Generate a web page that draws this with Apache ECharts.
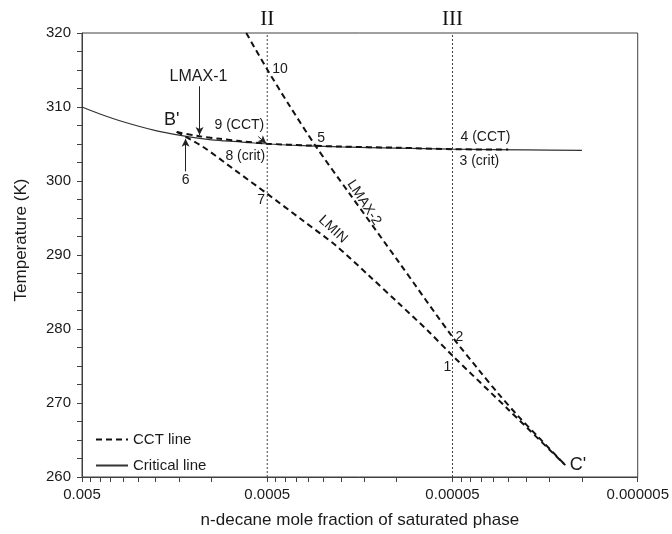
<!DOCTYPE html>
<html>
<head>
<meta charset="utf-8">
<script src="https://cdn.jsdelivr.net/npm/echarts@6/dist/echarts.min.js"></script>
<style>
  html, body { margin: 0; padding: 0; background: #fff; }
  #chart { width: 672px; height: 534px; }
</style>
</head>
<body>
<div id="chart"></div>
<script>
// ---- Data ----
const xTickValues = [0.005, 0.0005, 0.00005, 0.000005];
const xTickLabels = ['0.005', '0.0005', '0.00005', '0.000005'];

// Critical line (solid)
const critX = [0.005, 0.004, 0.003, 0.002, 0.0015, 0.001, 0.0007, 0.0005, 0.0003, 0.0002, 0.0001, 0.00005, 0.00002, 0.00001];
const critT = [310.0, 309.05, 308.0, 306.8, 306.2, 305.55, 305.3, 305.0, 304.75, 304.6, 304.45, 304.3, 304.2, 304.15];

// CCT line LMAX-1 (dashed, runs along the critical line)
const lmax1X = [0.00154, 0.0012, 0.0009, 0.0007, 0.0005, 0.0003, 0.0002, 0.0001, 0.00005, 0.000025];
const lmax1T = [306.63, 306.1, 305.7, 305.4, 305.05, 304.8, 304.65, 304.5, 304.3, 304.25];

// CCT line LMIN (dashed)
const lminX = [0.00154, 0.00112, 0.000734, 0.0005, 0.000324, 0.000213, 0.000141, 0.0000976, 0.0000673, 0.00005, 0.000025, 0.0000123];
const lminT = [306.63, 304.67, 301.33, 298.27, 294.73, 291.27, 287.2, 283.47, 279.67, 276.4, 269.13, 261.6];

// CCT line LMAX-2 (dashed)
const lmax2X = [0.000649, 0.0005, 0.000381, 0.000273, 0.000181, 0.0000976, 0.00005, 0.0000362, 0.0000283, 0.0000221, 0.0000172, 0.0000123];
const lmax2T = [320.0, 315.07, 310.27, 304.67, 298.4, 289.07, 278.93, 274.53, 271.27, 268.23, 265.4, 261.6];

// Vertical reference lines
const refLineX = [0.0005, 0.00005];
const refLineNames = ['II', 'III'];
const tRange = [260, 320];

// Text annotations (data coordinates of text centres)
const annText = ["B'", 'LMAX-1', '9 (CCT)', '8 (crit)', '6', '10', '5', '7', '4 (CCT)', '3 (crit)', '2', '1', "C'", 'LMIN', 'LMAX-2'];
const annX = [0.00164, 0.001175, 0.000707, 0.000657, 0.00138, 0.000426, 0.000256, 0.000539, 0.0000332, 0.0000358, 0.0000459, 0.0000532, 0.0000105, 0.000221, 0.000150];
const annT = [308.27, 314.13, 307.6, 303.33, 300.13, 315.07, 305.73, 297.47, 305.87, 302.67, 278.93, 274.8, 261.6, 293.47, 297.07];

// Arrows (from -> to, data coordinates)
const arrowFromX = [0.00116, 0.00138, 0.000559];
const arrowFromT = [312.8, 301.3, 306.0];
const arrowToX = [0.00116, 0.00138, 0.000506];
const arrowToT = [306.2, 305.7, 305.07];

// ---- Styles (not data) ----
const FONT = "'Liberation Sans', Arial, sans-serif";
const SERIF = "'Liberation Serif', 'DejaVu Serif', serif";
const TXT = '#1a1a1a';
const AX = '#404040';
const annStyle = {
  "B'": { fontSize: 18 },
  'LMAX-1': { fontSize: 16 },
  "C'": { fontSize: 18 },
  'LMIN': { fontSize: 14, rotate: -43 },
  'LMAX-2': { fontSize: 14, rotate: -57 }
};

const zip = (xs, ys) => xs.map((x, i) => [x, ys[i]]);

// tick positions on the log axis: decades plus the 2..9 sub-ticks of each decade
const allTicks = xTickValues.slice();
for (let i = 0; i < xTickValues.length - 1; i++) {
  const lower = xTickValues[i] / 10;
  for (let k = 2; k <= 9; k++) allTicks.push(+(k * lower).toPrecision(6));
}

function xLabel(v) {
  for (let i = 0; i < xTickValues.length; i++) {
    if (Math.abs(Math.log10(v) - Math.log10(xTickValues[i])) < 1e-6) return xTickLabels[i];
  }
  return '';
}

const cctStyle = { color: '#111', width: 2, type: [6, 4] };
const lineCommon = { type: 'line', xAxisIndex: 0, showSymbol: false, symbol: 'none', smooth: 0.3 };

const refSeries = refLineX.map((x, i) => Object.assign({}, lineCommon, {
  name: refLineNames[i],
  smooth: false,
  silent: true,
  z: 2,
  lineStyle: { type: [2, 2], color: '#444', width: 1 },
  data: [[x, tRange[0]], [x, tRange[1]]]
}));

const annData = annText.map((t, i) => ({
  value: [annX[i], annT[i]],
  name: t,
  label: Object.assign({ fontSize: 14 }, annStyle[t] || {})
})).concat(refLineX.map((x, i) => ({
  value: [x, tRange[1]],
  name: refLineNames[i],
  label: { position: 'top', distance: 3, fontSize: 21, fontFamily: SERIF, color: '#111' }
})));

const chart = echarts.init(document.getElementById('chart'), null, { renderer: 'canvas' });
chart.setOption({
  animation: false,
  backgroundColor: '#fff',
  textStyle: { fontFamily: FONT },
  grid: { left: 82, right: 32, top: 33, bottom: 51, show: true, borderColor: AX, borderWidth: 1, backgroundColor: 'transparent' },
  legend: {
    data: ['CCT line', 'Critical line'],
    orient: 'vertical',
    left: 95,
    top: 432,
    padding: 0,
    itemWidth: 32,
    itemHeight: 14,
    itemGap: 11,
    itemStyle: { opacity: 0 },
    textStyle: { fontSize: 15, color: TXT, fontFamily: FONT }
  },
  xAxis: {
    type: 'log',
    logBase: 10,
    min: 0.000005,
    max: 0.005,
    inverse: true,
    position: 'bottom',
    name: 'n-decane mole fraction of saturated phase',
    nameLocation: 'middle',
    nameGap: 35,
    nameTextStyle: { fontSize: 17, color: TXT, fontFamily: FONT },
    axisLine: { show: true, lineStyle: { color: AX, width: 1 } },
    axisTick: { show: true, length: 5, customValues: allTicks, lineStyle: { color: AX } },
    axisLabel: { show: true, customValues: xTickValues, formatter: xLabel, fontSize: 15, color: TXT, margin: 10, fontFamily: FONT, showMinLabel: true, showMaxLabel: true },
    splitLine: { show: false },
    minorSplitLine: { show: false }
  },
  yAxis: {
    type: 'value',
    min: 260,
    max: 320,
    interval: 10,
    name: 'Temperature (K)',
    nameLocation: 'middle',
    nameGap: 52,
    nameTextStyle: { fontSize: 17, color: TXT, fontFamily: FONT, padding: [0, 0, 0, 30] },
    axisLine: { show: true, lineStyle: { color: AX, width: 1 } },
    axisTick: { show: true, length: 5, lineStyle: { color: AX } },
    minorTick: { show: true, splitNumber: 4, length: 5, lineStyle: { color: AX } },
    axisLabel: { fontSize: 15, color: TXT, margin: 11, fontFamily: FONT },
    splitLine: { show: false }
  },
  series: refSeries.concat([
    Object.assign({}, lineCommon, {
      name: 'Critical line',
      data: zip(critX, critT),
      lineStyle: { color: '#333', width: 1.2 },
      itemStyle: { color: '#333' },
      z: 3
    }),
    Object.assign({}, lineCommon, {
      name: 'CCT line',
      data: zip(lmax1X, lmax1T),
      lineStyle: cctStyle,
      itemStyle: { color: '#111' },
      z: 4
    }),
    Object.assign({}, lineCommon, {
      name: 'CCT line',
      data: zip(lminX, lminT),
      lineStyle: cctStyle,
      itemStyle: { color: '#111' },
      z: 4
    }),
    Object.assign({}, lineCommon, {
      name: 'CCT line',
      data: zip(lmax2X, lmax2T),
      lineStyle: cctStyle,
      itemStyle: { color: '#111' },
      z: 4
    }),
    {
      name: 'annotations',
      type: 'scatter',
      xAxisIndex: 0,
      symbolSize: 0,
      silent: true,
      clip: false,
      z: 6,
      itemStyle: { opacity: 1 },
      data: annData,
      label: {
        show: true,
        position: 'inside',
        formatter: '{b}',
        color: TXT,
        opacity: 1,
        fontFamily: FONT
      },
      markLine: {
        silent: true,
        symbol: ['none', 'arrow'],
        symbolSize: [6, 8],
        lineStyle: { type: 'solid', color: '#222', width: 1, opacity: 1 },
        label: { show: false },
        data: arrowFromX.map((x, i) => [
          { coord: [x, arrowFromT[i]] },
          { coord: [arrowToX[i], arrowToT[i]] }
        ])
      }
    }
  ])
});
</script>
</body>
</html>
